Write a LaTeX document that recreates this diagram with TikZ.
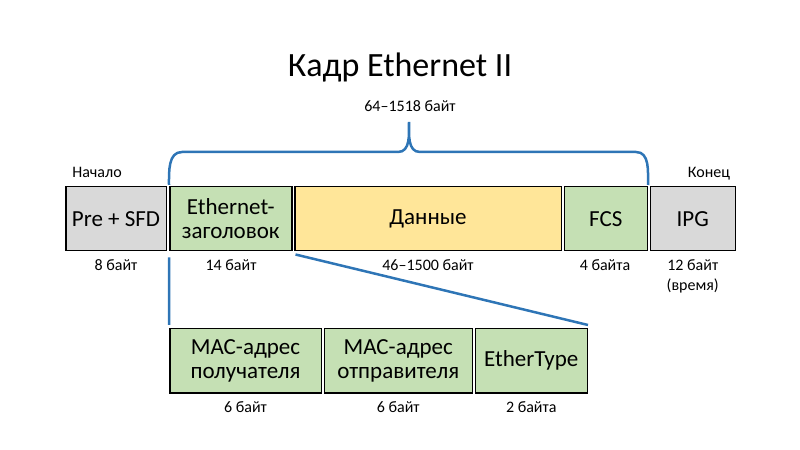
\documentclass[tikz,border=0pt]{standalone}
\usepackage{fontspec}
\setmainfont{Carlito}
\definecolor{fieldgray}{HTML}{D9D9D9}
\definecolor{fieldgreen}{HTML}{C5E0B4}
\definecolor{fieldyellow}{HTML}{FFE699}
\definecolor{braceblue}{HTML}{2E75B6}
\tikzset{
  field/.style={draw=black, line width=1.5bp, inner sep=0pt, align=center,
    minimum height=64bp, font=\fontsize{23bp}{24bp}\selectfont},
  bytes/.style={inner sep=0pt, align=center, font=\fontsize{16bp}{20bp}\selectfont},
  blueline/.style={draw=braceblue, line width=2.5bp},
}
\begin{document}
\begin{tikzpicture}[x=1bp,y=-1bp]
\useasboundingbox (0,0) rectangle (800,450);
\node[anchor=base, inner sep=0pt, font=\fontsize{34bp}{40bp}\selectfont] (title) at (400,77) {Кадр Ethernet II};
\node[bytes, anchor=base] (total) at (410,112) {64–1518 байт};
\node[bytes, anchor=base] (start) at (97,178) {Начало};
\node[bytes, anchor=base] (end) at (709,178) {Конец};
\node[field, fill=fieldgray, minimum width=100.5bp] (pre) at (116,218.75) {Pre + SFD};
\node[field, fill=fieldgreen, minimum width=122bp] (eth) at (230.75,218.75) {Ethernet-\\заголовок};
\node[field, fill=fieldyellow, minimum width=266.5bp] (data) at (428,218.75) {Данные};
\node[field, fill=fieldgreen, minimum width=83bp] (fcs) at (605.75,218.75) {FCS};
\node[field, fill=fieldgray, minimum width=85bp] (ipg) at (692.75,218.75) {IPG};
\node[bytes, anchor=base] (preb) at (116,271) {8 байт};
\node[bytes, anchor=base] (ethb) at (231,271) {14 байт};
\node[bytes, anchor=base] (datab) at (428,271) {46–1500 байт};
\node[bytes, anchor=base] (fcsb) at (605,271) {4 байта};
\node[bytes, anchor=north] (ipgb) at (692.75,259) {12 байт\\(время)};
\node[field, fill=fieldgreen, minimum width=151.5bp] (mac1) at (245.5,360.75) {MAC-адрес\\получателя};
\node[field, fill=fieldgreen, minimum width=148bp] (mac2) at (398.25,360.75) {MAC-адрес\\отправителя};
\node[field, fill=fieldgreen, minimum width=112bp] (etype) at (531.25,360.75) {EtherType};
\node[bytes, anchor=base] (mac1b) at (245.5,412) {6 байт};
\node[bytes, anchor=base] (mac2b) at (398.25,412) {6 байт};
\node[bytes, anchor=base] (etypeb) at (531.25,412) {2 байта};
\draw[blueline] ([yshift=1bp]eth.north west) to[out=90,in=180] (182,152) -- (398,152)
  to[out=0,in=-90] (409,122) to[out=-90,in=180] (420,152) -- (636,152)
  to[out=0,in=90] ([yshift=1bp]fcs.north east);
\draw[blueline] ([yshift=-6bp]eth.south west) -- ([yshift=3bp]mac1.north west);
\draw[blueline] ([shift={(3bp,-3bp)}]eth.south east) -- ([yshift=3bp]etype.north east);
\end{tikzpicture}
\end{document}
